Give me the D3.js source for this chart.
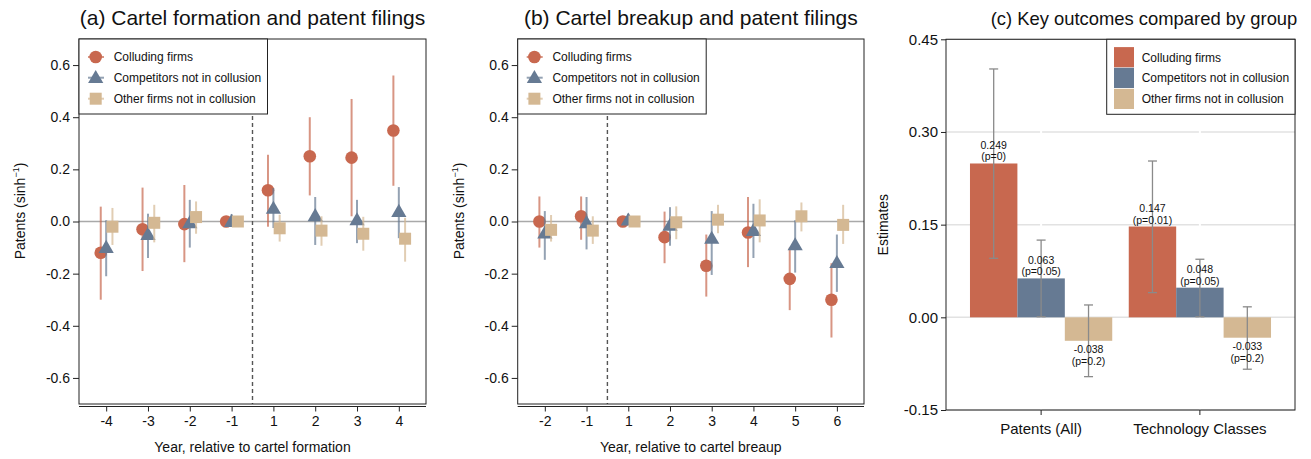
<!DOCTYPE html>
<html>
<head>
<meta charset="utf-8">
<script src="https://cdn.jsdelivr.net/npm/d3@7"></script>
<style>
  body { margin: 0; background: #fff; }
  text { font-family: "Liberation Sans", Arial, sans-serif; fill: #111; }
</style>
</head>
<body>
<svg id="chart"></svg>
<script>
// ---- data ----
var seriesNames = ["Colluding firms", "Competitors not in collusion", "Other firms not in collusion"];

var formationYears = ["-4", "-3", "-2", "-1", "1", "2", "3", "4"];
var formCollEst = [-0.12, -0.03, -0.01, 0, 0.12, 0.25, 0.245, 0.349];
var formCollLo  = [-0.30, -0.19, -0.156, 0, -0.02, 0.10, 0.02, 0.137];
var formCollHi  = [0.057, 0.13, 0.14, 0, 0.256, 0.40, 0.47, 0.56];
var formCompEst = [-0.10, -0.05, -0.005, 0, 0.05, 0.022, 0.006, 0.038];
var formCompLo  = [-0.21, -0.14, -0.10, 0, -0.025, -0.09, -0.083, -0.064];
var formCompHi  = [0.005, 0.03, 0.083, 0.028, 0.128, 0.094, 0.083, 0.132];
var formOthEst  = [-0.02, -0.005, 0.017, 0, -0.026, -0.035, -0.047, -0.066];
var formOthLo   = [-0.09, -0.08, -0.047, 0, -0.077, -0.093, -0.112, -0.154];
var formOthHi   = [0.052, 0.064, 0.077, 0, 0.026, 0.02, 0.018, 0.014];

var breakupYears = ["-2", "-1", "1", "2", "3", "4", "5", "6"];
var brkCollEst = [0, 0.02, 0, -0.06, -0.17, -0.042, -0.22, -0.30];
var brkCollLo  = [-0.10, -0.07, 0, -0.16, -0.288, -0.175, -0.34, -0.445];
var brkCollHi  = [0.096, 0.096, 0, 0.038, -0.05, 0.094, -0.10, -0.16];
var brkCompEst = [-0.045, -0.005, 0.005, -0.015, -0.065, -0.035, -0.09, -0.158];
var brkCompLo  = [-0.147, -0.107, 0, -0.093, -0.205, -0.14, -0.196, -0.27];
var brkCompHi  = [0.04, 0.094, 0.03, 0.055, 0.04, 0.068, 0.005, -0.05];
var brkOthEst  = [-0.032, -0.035, 0, -0.003, 0.007, 0.004, 0.02, -0.013];
var brkOthLo   = [-0.077, -0.086, 0, -0.068, -0.045, -0.08, -0.038, -0.086];
var brkOthHi   = [0.025, 0.02, 0, 0.058, 0.064, 0.085, 0.073, 0.064];

var outcomeGroups = ["Patents (All)", "Technology Classes"];
var outCollEst = [0.249, 0.147];
var outCollLo  = [0.0955, 0.04];
var outCollHi  = [0.402, 0.253];
var outCollP   = ["0", "0.01"];
var outCompEst = [0.063, 0.048];
var outCompLo  = [0.001, 0.001];
var outCompHi  = [0.125, 0.094];
var outCompP   = ["0.05", "0.05"];
var outOthEst  = [-0.038, -0.033];
var outOthLo   = [-0.096, -0.084];
var outOthHi   = [0.02, 0.017];
var outOthP    = ["0.2", "0.2"];

var eventTicks = [-0.6, -0.4, -0.2, 0, 0.2, 0.4, 0.6];
var outcomeTicks = [-0.15, 0, 0.15, 0.30, 0.45];

// ---- look ----
var colors = ["#c8684f", "#667a93", "#d4b893"];
var shapes = ["circle", "triangle", "square"];
var dodge = [-0.13, 0, 0.15];
var frameColor = "#222";

var svg = d3.select("#chart").attr("width", 1311).attr("height", 459);

function drawMarker(g, shape, x, y, color) {
  if (shape == "circle") {
    g.append("circle").attr("cx", x).attr("cy", y).attr("r", 6.3).attr("fill", color);
  } else if (shape == "triangle") {
    g.append("path").attr("d", d3.symbol(d3.symbolTriangle, 100)())
      .attr("transform", "translate(" + x + "," + (y + 1) + ")").attr("fill", color);
  } else {
    g.append("path").attr("d", d3.symbol(d3.symbolSquare, 144)())
      .attr("transform", "translate(" + x + "," + y + ")").attr("fill", color);
  }
}

var drawEventPanel = function(cfg) {
  var left = cfg.left, right = cfg.right, top = 39, bottom = 404;
  var xScale = d3.scaleLinear().domain([-0.65, 7.65]).range([left, right]);
  var yScale = d3.scaleLinear().domain([-0.7, 0.7]).range([bottom, top]);
  var g = svg.append("g");

  // zero line + event line
  g.append("line").attr("x1", left).attr("x2", right)
    .attr("y1", yScale(0)).attr("y2", yScale(0))
    .style("stroke", "#a9a9a9").style("stroke-width", 1.6);
  g.append("line").attr("x1", xScale(cfg.eventAt)).attr("x2", xScale(cfg.eventAt))
    .attr("y1", top).attr("y2", bottom)
    .style("stroke", "#555").style("stroke-width", 1.4).style("stroke-dasharray", "4,3");

  cfg.series.forEach(function(s, k) {
    s.est.forEach(function(v, i) {
      var xx = xScale(i + dodge[k]);
      if (s.hi[i] != s.lo[i]) {
        g.append("line").attr("x1", xx).attr("x2", xx)
          .attr("y1", yScale(s.hi[i])).attr("y2", yScale(s.lo[i]))
          .style("stroke", colors[k]).style("stroke-opacity", 0.7).style("stroke-width", 2);
      }
      drawMarker(g, shapes[k], xx, yScale(v), colors[k]);
    });
  });

  // frame
  g.append("rect").attr("x", left).attr("y", top)
    .attr("width", right - left).attr("height", bottom - top)
    .attr("fill", "none").style("stroke", frameColor).style("stroke-width", 1);

  // axes
  var yAxis = d3.axisLeft(yScale).tickValues(eventTicks).tickSize(6).tickPadding(3)
    .tickFormat(d3.format(".1f"));
  var ya = g.append("g").attr("transform", "translate(" + left + ",0)").call(yAxis);
  ya.select(".domain").remove();
  ya.selectAll("text").attr("font-size", 14).text(function(d) { return d == 0 ? "0.0" : d3.format(".1f")(d).replace("−", "-"); });
  ya.selectAll("line").style("stroke", frameColor);

  var xAxis = d3.axisBottom(xScale).tickValues(d3.range(cfg.years.length)).tickSize(5).tickPadding(5)
    .tickFormat(function(i) { return cfg.years[i]; });
  var xa = g.append("g").attr("transform", "translate(0," + (bottom + 2.5) + ")").call(xAxis);
  xa.select(".domain").attr("d", "M" + left + ",0H" + right).style("stroke", frameColor);
  xa.selectAll("text").attr("font-size", 14);
  xa.selectAll("line").style("stroke", frameColor);

  // titles
  svg.append("text").text(cfg.title).attr("x", (left + right) / 2).attr("y", 25)
    .attr("text-anchor", "middle").attr("font-size", 21);
  svg.append("text").text(cfg.xLabel).attr("x", (left + right) / 2).attr("y", 452)
    .attr("text-anchor", "middle").attr("font-size", 14);
  var yl = svg.append("text").attr("transform", "translate(" + (left - 54) + ",211) rotate(-90)")
    .attr("text-anchor", "middle").attr("font-size", 14);
  yl.append("tspan").text("Patents (sinh");
  yl.append("tspan").text("\u22121").attr("font-size", 9).attr("dy", -6);
  yl.append("tspan").text(")").attr("dy", 6);

  // legend
  var lg = g.append("g").attr("transform", "translate(" + left + "," + top + ")");
  lg.append("rect").attr("width", 188.5).attr("height", 75).attr("fill", "#fff")
    .style("stroke", frameColor).style("stroke-width", 1);
  var rows = [18, 38.7, 59.7];
  seriesNames.forEach(function(name, k) {
    lg.append("line").attr("x1", 9).attr("x2", 25).attr("y1", rows[k]).attr("y2", rows[k])
      .style("stroke", colors[k]).style("stroke-opacity", 0.7).style("stroke-width", 2);
    drawMarker(lg, shapes[k], 16.7, rows[k], colors[k]);
    lg.append("text").text(name).attr("x", 34.7).attr("y", rows[k] + 4.3).attr("font-size", 12);
  });
};

drawEventPanel({
  left: 79, right: 426, eventAt: 3.5, years: formationYears,
  title: "(a) Cartel formation and patent filings",
  xLabel: "Year, relative to cartel formation",
  series: [
    {est: formCollEst, lo: formCollLo, hi: formCollHi},
    {est: formCompEst, lo: formCompLo, hi: formCompHi},
    {est: formOthEst, lo: formOthLo, hi: formOthHi}
  ]
});

drawEventPanel({
  left: 517.7, right: 864, eventAt: 1.5, years: breakupYears,
  title: "(b) Cartel breakup and patent filings",
  xLabel: "Year, relative to cartel breaup",
  series: [
    {est: brkCollEst, lo: brkCollLo, hi: brkCollHi},
    {est: brkCompEst, lo: brkCompLo, hi: brkCompHi},
    {est: brkOthEst, lo: brkOthLo, hi: brkOthHi}
  ]
});

// ---- panel (c) grouped bars ----
var drawOutcomePanel = function() {
  var left = 946, right = 1295, top = 39.3, bottom = 410;
  var g = svg.append("g");
  var x0 = d3.scaleBand().domain(outcomeGroups).range([left, right])
    .paddingInner(0.104).paddingOuter(0.151);
  var x1 = d3.scaleBand().domain(seriesNames).range([0, x0.bandwidth()]);
  var yScale = d3.scaleLinear().domain([-0.15, 0.45]).range([bottom, top]);

  // grid
  outcomeTicks.forEach(function(t) {
    g.append("line").attr("x1", left).attr("x2", right).attr("y1", yScale(t)).attr("y2", yScale(t))
      .style("stroke", "#e2e2e2").style("stroke-width", 1.5);
  });
  outcomeGroups.forEach(function(gr) {
    var cx = x0(gr) + x0.bandwidth() / 2;
    g.append("line").attr("x1", cx).attr("x2", cx).attr("y1", top).attr("y2", bottom)
      .style("stroke", "#fff").style("stroke-width", 2);
  });

  var series = [
    {est: outCollEst, lo: outCollLo, hi: outCollHi, p: outCollP},
    {est: outCompEst, lo: outCompLo, hi: outCompHi, p: outCompP},
    {est: outOthEst, lo: outOthLo, hi: outOthHi, p: outOthP}
  ];

  series.forEach(function(s, k) {
    outcomeGroups.forEach(function(gr, i) {
      var bx = x0(gr) + x1(seriesNames[k]);
      var v = s.est[i];
      g.append("rect").attr("x", bx).attr("width", x1.bandwidth())
        .attr("y", yScale(Math.max(v, 0)))
        .attr("height", Math.abs(yScale(v) - yScale(0)))
        .attr("fill", colors[k]);
    });
  });

  series.forEach(function(s, k) {
    outcomeGroups.forEach(function(gr, i) {
      var cx = x0(gr) + x1(seriesNames[k]) + x1.bandwidth() / 2;
      var v = s.est[i];
      var eb = g.append("g").style("stroke", "#8a8a8a").style("stroke-width", 1.3);
      eb.append("line").attr("x1", cx).attr("x2", cx).attr("y1", yScale(s.hi[i])).attr("y2", yScale(s.lo[i]));
      eb.append("line").attr("x1", cx - 4.5).attr("x2", cx + 4.5).attr("y1", yScale(s.hi[i])).attr("y2", yScale(s.hi[i]));
      eb.append("line").attr("x1", cx - 4.5).attr("x2", cx + 4.5).attr("y1", yScale(s.lo[i])).attr("y2", yScale(s.lo[i]));

      var yv = yScale(v);
      var y1 = v >= 0 ? yv - 14.5 : yv + 12.5;
      g.append("text").text(d3.format(".3f")(v).replace("−", "-")).attr("x", cx).attr("y", y1)
        .attr("text-anchor", "middle").attr("font-size", 10.5);
      g.append("text").text("(p=" + s.p[i] + ")").attr("x", cx).attr("y", y1 + 11.5)
        .attr("text-anchor", "middle").attr("font-size", 10.5);
    });
  });

  g.append("rect").attr("x", left).attr("y", top).attr("width", right - left).attr("height", bottom - top)
    .attr("fill", "none").style("stroke", frameColor).style("stroke-width", 1);

  var yAxis = d3.axisLeft(yScale).tickValues(outcomeTicks).tickSize(5).tickPadding(3)
    .tickFormat(function(d) { return d3.format(".2f")(d).replace("−", "-"); });
  var ya = g.append("g").attr("transform", "translate(" + left + ",0)").call(yAxis);
  ya.select(".domain").remove();
  ya.selectAll("text").attr("font-size", 15);
  ya.selectAll("line").style("stroke", frameColor);

  var xAxis = d3.axisBottom(x0).tickSize(5).tickPadding(8);
  var xa = g.append("g").attr("transform", "translate(0," + bottom + ")").call(xAxis);
  xa.select(".domain").remove();
  xa.selectAll("text").attr("font-size", 15);
  xa.selectAll("line").style("stroke", frameColor);

  svg.append("text").text("(c) Key outcomes compared by group").attr("x", 1144).attr("y", 25)
    .attr("text-anchor", "middle").attr("font-size", 18.4);
  svg.append("text").text("Estimates").attr("transform", "translate(888," + ((top + bottom) / 2) + ") rotate(-90)")
    .attr("text-anchor", "middle").attr("font-size", 14);

  // legend
  var lg = g.append("g").attr("transform", "translate(1106.7," + top + ")");
  lg.append("rect").attr("width", right - 1106.7).attr("height", 75).attr("fill", "#fff")
    .style("stroke", frameColor).style("stroke-width", 1);
  var rows = [18, 38.7, 59.7];
  seriesNames.forEach(function(name, k) {
    lg.append("rect").attr("x", 7.3).attr("y", rows[k] - 10.2).attr("width", 20).attr("height", 20.2)
      .attr("fill", colors[k]);
    lg.append("text").text(name).attr("x", 35).attr("y", rows[k] + 4.3).attr("font-size", 12);
  });
};

drawOutcomePanel();
</script>
</body>
</html>
